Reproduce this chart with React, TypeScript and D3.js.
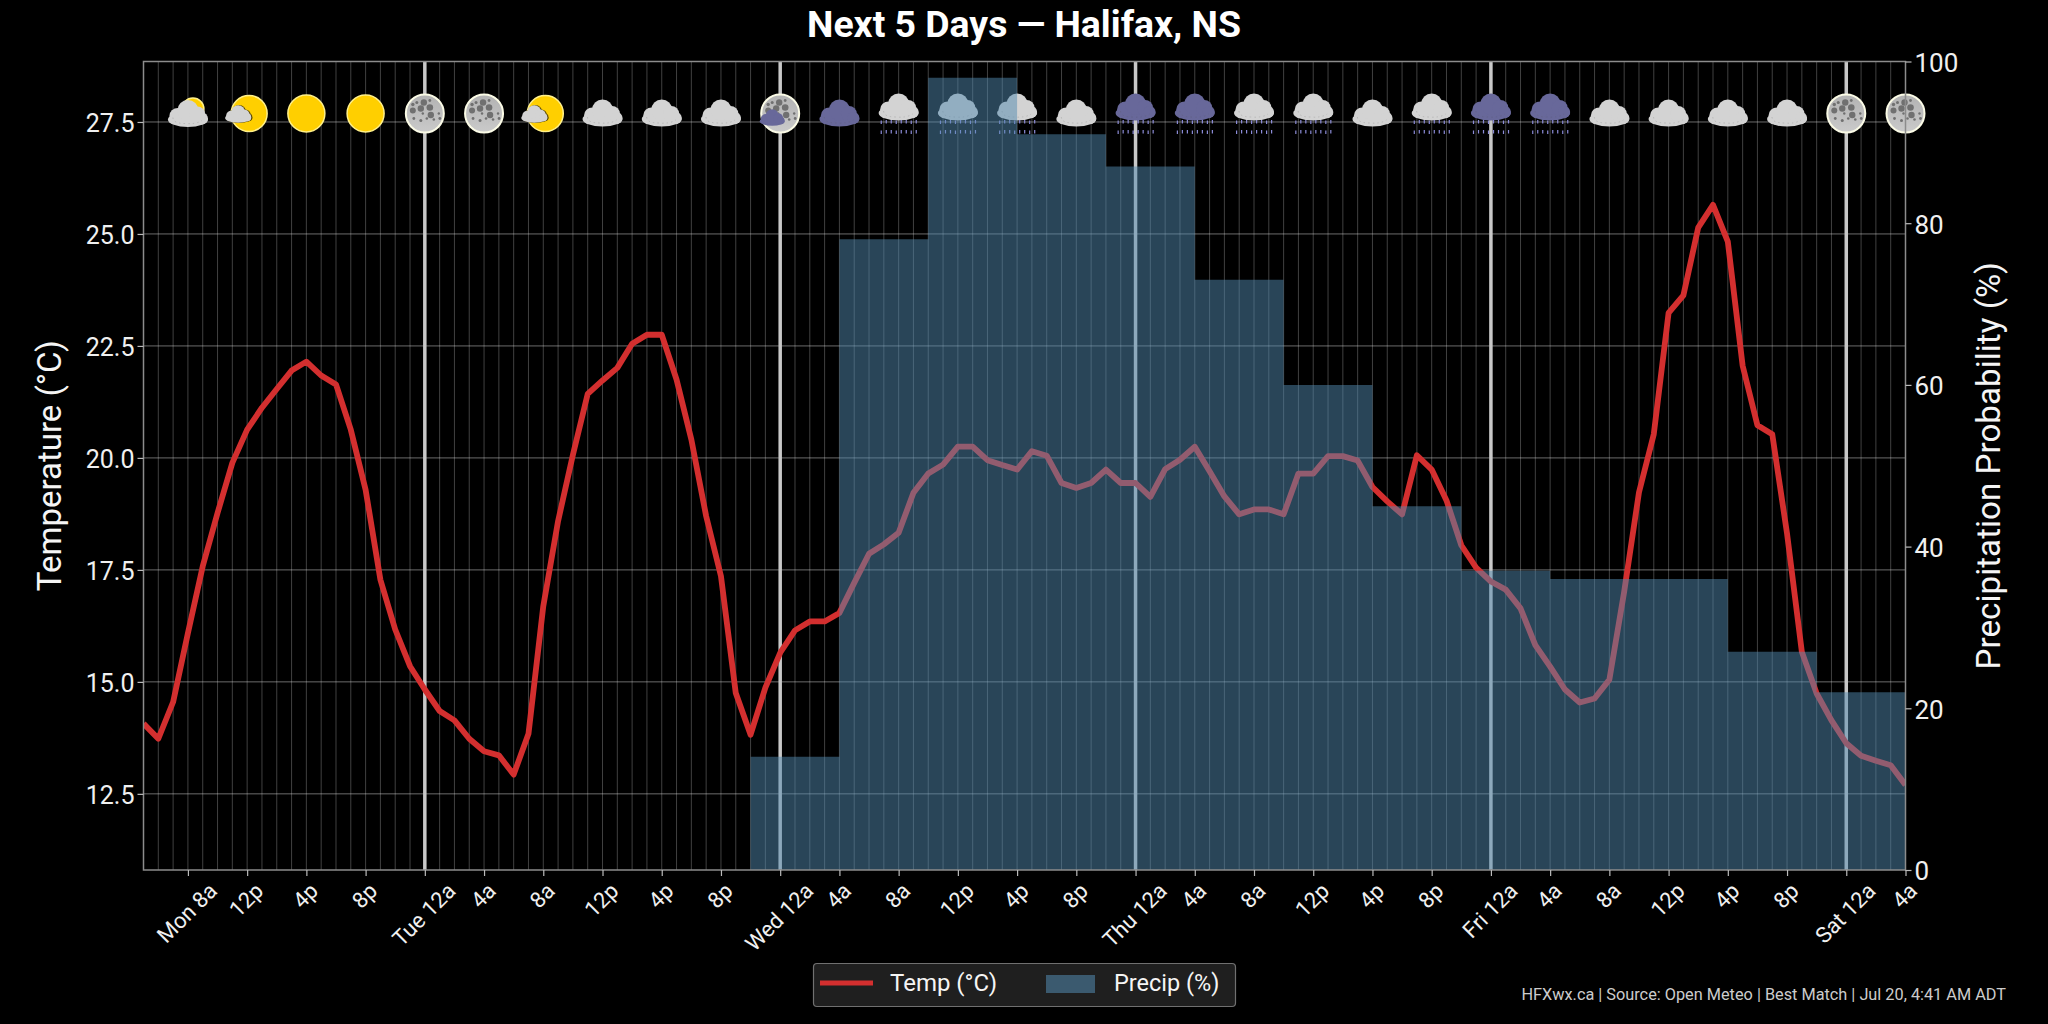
import { useEffect, useRef } from 'react'
import * as d3 from 'd3'

const WIDTH = 2048
const HEIGHT = 1024
const FONT = 'Roboto, sans-serif'

// hourly temperature, starting Mon 5a
const temps = [
  14.07, 13.73, 14.55, 16.09, 17.58, 18.77, 19.89, 20.63, 21.12, 21.54, 21.95, 22.15,
  21.84, 21.64, 20.63, 19.29, 17.28, 16.17, 15.35, 14.83, 14.35, 14.14, 13.73, 13.45,
  13.36, 12.93, 13.84, 16.69, 18.59, 20.07, 21.43, 21.73, 22.01, 22.55, 22.75, 22.75,
  21.75, 20.41, 18.7, 17.36, 14.75, 13.82, 14.87, 15.65, 16.15, 16.35, 16.35, 16.54,
  17.21, 17.86, 18.07, 18.33, 19.22, 19.65, 19.85, 20.25, 20.25, 19.95, 19.84, 19.74,
  20.15, 20.05, 19.44, 19.33, 19.44, 19.74, 19.44, 19.44, 19.13, 19.75, 19.96, 20.25,
  19.7, 19.14, 18.74, 18.85, 18.85, 18.74, 19.65, 19.65, 20.04, 20.04, 19.94, 19.35,
  19.03, 18.74, 20.06, 19.74, 19.05, 18.05, 17.55, 17.24, 17.06, 16.64, 15.82, 15.34,
  14.83, 14.54, 14.63, 15.05, 17.01, 19.23, 20.53, 23.24, 23.63, 25.14, 25.65, 24.83,
  22.06, 20.73, 20.53, 18.31, 15.67, 14.74, 14.14, 13.63, 13.35, 13.24, 13.14, 12.7,
]

// precip probability in steps; each value holds until the next hour in the list
const precipHours = [41, 47, 53, 59, 65, 71, 77, 83, 89, 95, 101, 107, 113, 119]
const precipValues = [14, 78, 98, 91, 87, 73, 60, 45, 37, 36, 36, 27, 22, 22]

const tickHours = d3.range(30).map((k) => 3 + k * 4)
const tickLabels = [
  'Mon 8a', '12p', '4p', '8p', 'Tue 12a', '4a', '8a', '12p', '4p', '8p',
  'Wed 12a', '4a', '8a', '12p', '4p', '8p', 'Thu 12a', '4a', '8a', '12p',
  '4p', '8p', 'Fri 12a', '4a', '8a', '12p', '4p', '8p', 'Sat 12a', '4a',
]
const midnightHours = [19, 43, 67, 91, 115]
const tempTicks = [12.5, 15, 17.5, 20, 22.5, 25, 27.5]
const precipTicks = [0, 20, 40, 60, 80, 100]

// one weather icon per x tick
const icons = [
  'mostlyCloudy', 'partlySunny', 'sun', 'sun', 'moon', 'moon', 'partlySunny', 'cloud', 'cloud', 'cloud',
  'moonCloud', 'darkCloud', 'rain', 'rain', 'rain', 'cloud', 'darkRain', 'darkRain', 'rain', 'rain',
  'cloud', 'rain', 'darkRain', 'darkRain', 'cloud', 'cloud', 'cloud', 'cloud', 'moon', 'moon',
]

const margin = { top: 61.5, right: 142.5, bottom: 154, left: 143.5 }
const CLOUD = '#d3d3d3'
const DARK_CLOUD = '#68689a'
const PRECIP = '#528ab0'

type G = d3.Selection<SVGGElement, unknown, null, undefined>

function drawCloud(g: G, cx: number, cy: number, scale: number, fill: string, specks = true) {
  const c = g.append('g').attr('transform', `translate(${cx},${cy}) scale(${scale})`)
  const lobes = [
    [0, 6, 20, 7.5], [-10, 2.5, 8.5, 8], [0, -3, 10.5, 10.5], [9.5, 1, 8, 8], [14, 5, 6, 6],
  ]
  lobes.forEach(([x, y, rx, ry]) => {
    c.append('ellipse').attr('cx', x).attr('cy', y).attr('rx', rx).attr('ry', ry).attr('fill', fill)
  })
  if (!specks) {return}
  // dashed inner edge along the bottom of the cloud
  c.append('path')
    .attr('d', 'M-15,4 Q-15,10 -3,10 Q8,11 14,7')
    .attr('fill', 'none')
    .attr('stroke', '#555')
    .attr('stroke-opacity', 0.25)
    .attr('stroke-width', 0.8)
    .attr('stroke-dasharray', '1.5 3')
}

function drawRain(g: G, cx: number) {
  d3.range(8).forEach((k) => {
    ;[120, 130].forEach((y) => {
      g.append('rect')
        .attr('x', cx - 18 + k * 5)
        .attr('y', y + (k % 3 === 0 ? 0.5 : 0))
        .attr('width', 1.2)
        .attr('height', 3.5)
        .attr('fill', '#8c8cd8')
    })
  })
}

function drawSun(g: G, cx: number, cy: number, r: number) {
  g.append('circle')
    .attr('cx', cx).attr('cy', cy).attr('r', r)
    .attr('fill', '#ffcf00')
    .attr('stroke', '#fff08a')
    .attr('stroke-width', 1.5)
}

function drawMoon(g: G, cx: number, cy: number) {
  g.append('circle')
    .attr('cx', cx).attr('cy', cy).attr('r', 19)
    .attr('fill', 'url(#moonFill)')
    .attr('stroke', '#fbfbe6')
    .attr('stroke-width', 2)
  const craters = [
    [-1, -11, 3.2], [-12, -3, 3], [-4, -5, 3.2], [5, -6, 3.3], [6, 1.5, 3.2], [-8, -11, 1.5],
    [-12, -9, 1.7], [5, -13, 1.4], [15, 5, 1.4], [14, 0, 1.2], [-4, 7, 1.5], [2, 5, 1.3],
    [-11, 5, 1.4], [9, 6, 1.3], [-2, 0, 1.2],
  ]
  craters.forEach(([dx, dy, r]) => {
    g.append('circle').attr('cx', cx + dx).attr('cy', cy + dy).attr('r', r).attr('fill', '#707070')
  })
}

function drawIcon(g: G, kind: string, cx: number) {
  const cy = 113.5
  if (kind === 'sun') drawSun(g, cx, cy, 18.5)
  if (kind === 'moon') drawMoon(g, cx, cy)
  if (kind === 'cloud') drawCloud(g, cx, cy - 0.5, 1, CLOUD)
  if (kind === 'darkCloud') drawCloud(g, cx, cy - 0.5, 1, DARK_CLOUD)
  if (kind === 'rain' || kind === 'darkRain') {
    drawCloud(g, cx, cy - 6.5, 1, kind === 'rain' ? CLOUD : DARK_CLOUD)
    drawRain(g, cx)
  }
  if (kind === 'mostlyCloudy') {
    drawSun(g, cx + 5, cy - 4.5, 11)
    drawCloud(g, cx, cy, 1, CLOUD)
  }
  if (kind === 'partlySunny') {
    drawSun(g, cx + 2, cy, 18)
    drawCloud(g, cx - 8, cy + 0.5, 0.66, '#5c4a00', false)
    drawCloud(g, cx - 9, cy + 0.5, 0.65, CLOUD, false)
  }
  if (kind === 'moonCloud') {
    drawMoon(g, cx, cy)
    drawCloud(g, cx - 8, cy + 4, 0.62, DARK_CLOUD, false)
  }
}

export default function App() {
  const ref = useRef<SVGSVGElement | null>(null)

  useEffect(() => {
    if (!ref.current) {return}
    const svg = d3.select(ref.current)
    svg.selectAll('*').remove()

    const x0 = margin.left
    const x1 = WIDTH - margin.right
    const y0 = HEIGHT - margin.bottom
    const y1 = margin.top

    const x = d3.scaleLinear().domain([0, temps.length - 1]).range([x0, x1])
    const yTemp = d3.scaleLinear().domain([10.8, 28.85]).range([y0, y1])
    const yPrecip = d3.scaleLinear().domain([0, 100]).range([y0, y1])

    svg.append('rect').attr('width', WIDTH).attr('height', HEIGHT).attr('fill', '#000')

    const defs = svg.append('defs')
    const grad = defs.append('linearGradient').attr('id', 'moonFill').attr('x1', 0).attr('y1', 0).attr('x2', 0).attr('y2', 1)
    grad.append('stop').attr('offset', '0%').attr('stop-color', '#b2b2b2')
    grad.append('stop').attr('offset', '100%').attr('stop-color', '#cacaca')
    defs.append('clipPath').attr('id', 'plotClip').append('rect')
      .attr('x', x0).attr('y', y1).attr('width', x1 - x0).attr('height', y0 - y1)

    // grid
    const grid = svg.append('g')
    grid.selectAll('line.minor')
      .data(d3.range(temps.length))
      .join('line')
      .attr('x1', (d) => x(d)).attr('x2', (d) => x(d))
      .attr('y1', y1).attr('y2', y0)
      .attr('stroke', '#fff').attr('stroke-opacity', 0.25).attr('stroke-width', 1)
    grid.selectAll('line.horiz')
      .data(tempTicks)
      .join('line')
      .attr('x1', x0).attr('x2', x1)
      .attr('y1', (d) => yTemp(d)).attr('y2', (d) => yTemp(d))
      .attr('stroke', '#fff').attr('stroke-opacity', 0.42).attr('stroke-width', 1)
    grid.selectAll('line.midnight')
      .data(midnightHours)
      .join('line')
      .attr('x1', (d) => x(d)).attr('x2', (d) => x(d))
      .attr('y1', y1).attr('y2', y0)
      .attr('stroke', '#c8c8c8').attr('stroke-width', 3.5)

    // temperature line
    const line = d3.line<number>().x((_, i) => x(i)).y((d) => yTemp(d))
    svg.append('path')
      .datum(temps)
      .attr('clip-path', 'url(#plotClip)')
      .attr('fill', 'none')
      .attr('stroke', '#d32f2f')
      .attr('stroke-width', 5.8)
      .attr('stroke-linejoin', 'round')
      .attr('d', line)

    // weather icons
    const iconLayer = svg.append('g') as unknown as G
    icons.forEach((kind, i) => drawIcon(iconLayer, kind, x(tickHours[i])))

    // precipitation steps sit on top of everything in the plot
    const area = d3.area<number>()
      .x((_, i) => x(precipHours[i]))
      .y0(y0)
      .y1((d) => yPrecip(d))
      .curve(d3.curveStepAfter)
    svg.append('path')
      .datum(precipValues)
      .attr('fill', PRECIP)
      .attr('fill-opacity', 0.5)
      .attr('d', area)

    // frame
    svg.append('rect')
      .attr('x', x0).attr('y', y1).attr('width', x1 - x0).attr('height', y0 - y1)
      .attr('fill', 'none').attr('stroke', '#8c8c8c').attr('stroke-width', 1.5)

    // axes
    const styleAxis = (g: d3.Selection<SVGGElement, unknown, null, undefined>, size: number) => {
      g.select('.domain').remove()
      g.selectAll('line').attr('stroke', '#bbb').attr('stroke-width', 1.2)
      g.selectAll('text').attr('fill', '#f0f0f0').style('font-family', FONT).style('font-size', `${size}px`)
    }

    const axisLeft = svg.append('g').attr('transform', `translate(${x0},0)`)
      .call(d3.axisLeft(yTemp).tickValues(tempTicks).tickFormat(d3.format('.1f')).tickSize(6).tickPadding(3))
    styleAxis(axisLeft, 25)
    axisLeft.selectAll('text').attr('dy', '0.4em')

    const axisRight = svg.append('g').attr('transform', `translate(${x1},0)`)
      .call(d3.axisRight(yPrecip).tickValues(precipTicks).tickSize(6).tickPadding(3))
    styleAxis(axisRight, 26)
    axisRight.selectAll('text').attr('dy', '0.38em')

    const axisBottom = svg.append('g').attr('transform', `translate(0,${y0})`)
      .call(d3.axisBottom(x).tickValues(tickHours).tickFormat((_, i) => tickLabels[i]).tickSize(6))
    styleAxis(axisBottom, 22)
    // labels are turned about their centre, like the original
    axisBottom.selectAll<SVGTextElement, number>('text').each(function () {
      const len = this.getComputedTextLength()
      const half = ((len + 22) * Math.SQRT1_2) / 2
      d3.select(this)
        .attr('text-anchor', 'middle')
        .attr('dy', '0.35em')
        .attr('y', 0)
        .attr('transform', `translate(-1.5,${9 + half}) rotate(-45)`)
    })

    const addText = (txt: string, px: number, py: number, size: number, extra: Record<string, string | number> = {}) => {
      const t = svg.append('text')
        .attr('x', px).attr('y', py)
        .attr('fill', '#f5f5f5')
        .style('font-family', FONT)
        .style('font-size', `${size}px`)
        .text(txt)
      Object.entries(extra).forEach(([k, v]) => t.attr(k, v))
      return t
    }

    addText('Next 5 Days — Halifax, NS', 1024, 37, 37.4, { 'text-anchor': 'middle', 'font-weight': 700, fill: '#fff' })
    addText('Temperature (°C)', 0, 0, 33, {
      'text-anchor': 'middle',
      transform: `translate(61,${(y0 + y1) / 2}) rotate(-90)`,
    })
    addText('Precipitation Probability (%)', 0, 0, 33.2, {
      'text-anchor': 'middle',
      transform: `translate(2000,${(y0 + y1) / 2}) rotate(-90)`,
    })

    // legend
    const lg = svg.append('g')
    lg.append('rect')
      .attr('x', 813.5).attr('y', 963.5).attr('width', 422).attr('height', 43).attr('rx', 3.5)
      .attr('fill', '#1f1f1f').attr('stroke', '#707070').attr('stroke-width', 1.2)
    lg.append('line')
      .attr('x1', 820).attr('x2', 873).attr('y1', 983).attr('y2', 983)
      .attr('stroke', '#d32f2f').attr('stroke-width', 5)
    lg.append('rect')
      .attr('x', 1046).attr('y', 975).attr('width', 49).attr('height', 18)
      .attr('fill', PRECIP).attr('fill-opacity', 0.55)
    addText('Temp (°C)', 890, 991, 24)
    addText('Precip (%)', 1114, 991, 23.5)

    addText('HFXwx.ca | Source: Open Meteo | Best Match | Jul 20, 4:41 AM ADT', 2006, 1000, 16.3, {
      'text-anchor': 'end',
      fill: '#cccccc',
    })
  }, [])

  return (
    <svg
      ref={ref}
      width={WIDTH}
      height={HEIGHT}
      style={{ position: 'absolute', left: 0, top: 0, display: 'block' }}
    />
  )
}
